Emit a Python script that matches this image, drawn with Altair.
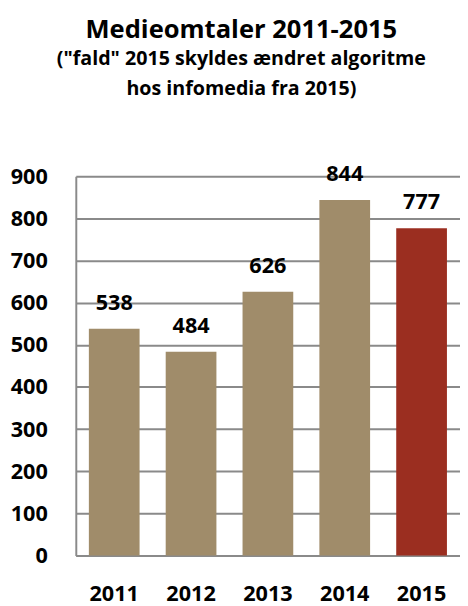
import altair as alt
import pandas as pd

years = ["2011", "2012", "2013", "2014", "2015"]
values = [538, 484, 626, 844, 777]
colors = ["#A08C6A", "#A08C6A", "#A08C6A", "#A08C6A", "#9B2E20"]

df = pd.DataFrame({"year": years, "value": values, "color": colors})

FONT = "Open Sans"

base = alt.Chart(df).encode(
    x=alt.X("year:N", sort=years,
            scale=alt.Scale(paddingInner=0.34, paddingOuter=0.17),
            axis=alt.Axis(title=None, labelAngle=0, labelFont=FONT, labelFontSize=22,
                          labelFontWeight="bold", labelColor="#000000", labelPadding=29,
                          ticks=False, domainColor="#8A8A8A", domainWidth=2, grid=False)),
)

bars = base.mark_bar().encode(
    y=alt.Y("value:Q", scale=alt.Scale(domain=[0, 900], nice=False),
            axis=alt.Axis(title=None, values=list(range(0, 901, 100)), labelFont=FONT,
                          labelFontSize=22, labelFontWeight="bold", labelColor="#000000",
                          labelPadding=29, ticks=False, domainColor="#8A8A8A", domainWidth=2,
                          gridColor="#8A8A8A", gridWidth=2)),
    color=alt.Color("color:N", scale=None),
)

labels = base.mark_text(font=FONT, fontSize=22, fontWeight="bold", color="#000000",
                        baseline="alphabetic", dy=-19).encode(
    y="value:Q",
    text="value:Q",
)

chart = (bars + labels).properties(
    width=391,
    height=386,
    padding={"left": 69, "top": 166, "right": 0, "bottom": 46},
    autosize=alt.AutoSizeParams(type="none"),
    title=alt.TitleParams(
        text="Medieomtaler 2011-2015",
        subtitle=["(\"fald\" 2015 skyldes ændret algoritme", "hos infomedia fra 2015)"],
        font=FONT, fontSize=26, fontWeight="bold", color="#000000",
        subtitleFont=FONT, subtitleFontSize=20, subtitleFontWeight="bold",
        subtitleColor="#000000", subtitleLineHeight=30, subtitlePadding=7,
        anchor="middle", dx=-27, offset=66,
    ),
).configure_view(stroke=None)

chart.save("out.html", embed_options={"renderer": "svg", "actions": False})
